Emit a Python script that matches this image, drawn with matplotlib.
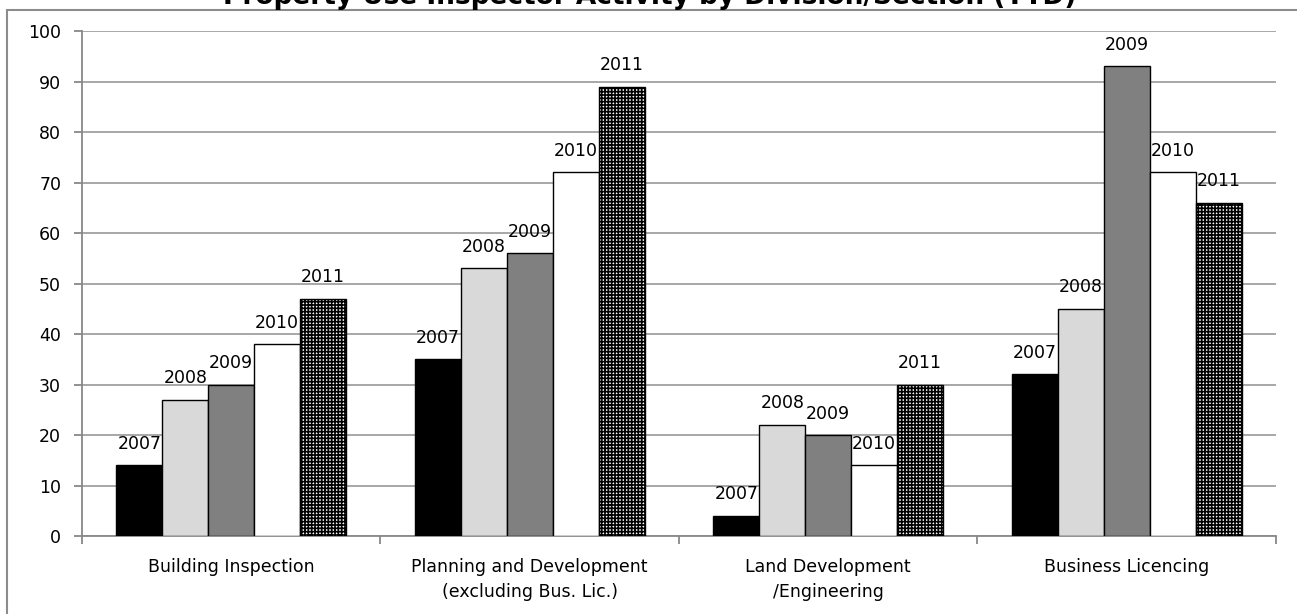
import numpy as np
import matplotlib
matplotlib.use("Agg")
import matplotlib.pyplot as plt
from matplotlib.patches import Rectangle

# inspector activity counts per division, one list per year
divisions = ["Building Inspection",
             "Planning and Development\n(excluding Bus. Lic.)",
             "Land Development\n/Engineering",
             "Business Licencing"]
years = ["2007", "2008", "2009", "2010", "2011"]
v2007 = [14, 35, 4, 32]
v2008 = [27, 53, 22, 45]
v2009 = [30, 56, 20, 93]
v2010 = [38, 72, 14, 72]
v2011 = [47, 89, 30, 66]
values = [v2007, v2008, v2009, v2010, v2011]

faces = ["black", "#d9d9d9", "#808080", "white", "white"]
hatches = [None, None, None, None, "+++++"]

plt.rcParams['font.family'] = ['DejaVu Sans']
plt.rcParams['hatch.linewidth'] = 1.2

fig = plt.figure(figsize=(12.97, 6.14), dpi=100)
ax = fig.add_axes([0.0632, 0.127, 0.9838 - 0.0632, 0.9495 - 0.127])

x = np.arange(len(divisions))
w = 0.154
for i, yr in enumerate(years):
    pos = x + (i - 2) * w
    bars = ax.bar(pos, values[i], width=w, color=faces[i], edgecolor="black",
                  linewidth=1.0, hatch=hatches[i], zorder=3)
    for b, v in zip(bars, values[i]):
        ax.annotate(yr, (b.get_x() + b.get_width() / 2, v), xytext=(0, 9),
                    textcoords="offset points", ha="center", va="bottom",
                    fontsize=12.5, zorder=4)

ax.set_xlim(-0.5, 3.5)
ax.set_ylim(0, 100)
ax.set_yticks(np.arange(0, 101, 10))
ax.yaxis.grid(True, color="#a0a0a0", linewidth=1.3, zorder=0)
ax.set_axisbelow(True)

# boundaries get the tick marks, names sit centred between them
ax.set_xticks(np.arange(-0.5, 3.6, 1.0))
ax.set_xticklabels([])
ax.set_xticks(x, minor=True)
ax.set_xticklabels(divisions, minor=True, fontsize=12.5, linespacing=1.5,
                   va="top")
ax.tick_params(axis="x", which="minor", length=0, pad=16)
ax.tick_params(axis="x", which="major", length=6, color="#888888", width=1.3)
ax.tick_params(axis="y", length=6, color="#888888", width=1.3, pad=9,
               labelsize=12.5)

for s in ["top", "right"]:
    ax.spines[s].set_visible(False)
for s in ["left", "bottom"]:
    ax.spines[s].set_color("#888888")
    ax.spines[s].set_linewidth(1.3)

# chart-area frame, running off the right and bottom edges
fig.patches.append(Rectangle((7 / 1297, -0.1), 1.1, 0.1 + 1 - 10 / 614,
                             transform=fig.transFigure, fill=False,
                             edgecolor="#8c8c8c", linewidth=1.5))

fig.text(0.501, 1 - 4 / 614, "Property Use Inspector Activity by Division/Section (YTD)",
         ha="center", va="baseline", fontsize=19, fontweight="bold")

fig.savefig("out.png", dpi=100, facecolor="white")
